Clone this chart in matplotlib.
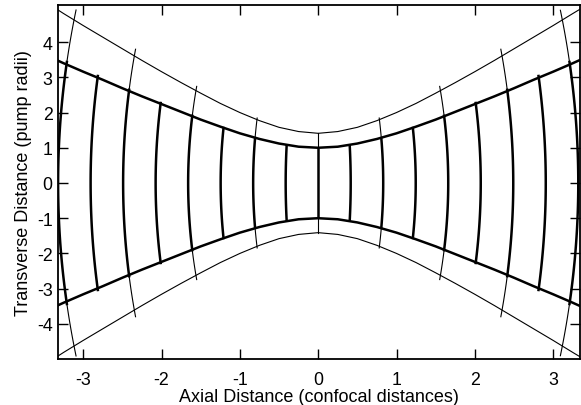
import numpy as np
import matplotlib
matplotlib.use('Agg')
import matplotlib.pyplot as plt

plt.rcParams['font.family'] = ['Liberation Sans', 'DejaVu Sans']

#beam envelope (axial position, inner radius, outer radius)
env_z = [-3.32, -3.25, -3.0, -2.75, -2.5, -2.25, -2.0, -1.75, -1.5, -1.25, -1.0,
         -0.75, -0.5, -0.25, 0.0, 0.25, 0.5, 0.75, 1.0, 1.25, 1.5, 1.75, 2.0,
         2.25, 2.5, 2.75, 3.0, 3.25, 3.34]
env_inner = [3.47, 3.40, 3.16, 2.93, 2.69, 2.46, 2.24, 2.02, 1.80, 1.60, 1.41,
             1.25, 1.12, 1.03, 1.00, 1.03, 1.12, 1.25, 1.41, 1.60, 1.80, 2.02, 2.24,
             2.46, 2.69, 2.93, 3.16, 3.40, 3.49]
env_outer = [4.91, 4.81, 4.47, 4.14, 3.81, 3.48, 3.16, 2.85, 2.55, 2.26, 2.00,
             1.77, 1.58, 1.46, 1.41, 1.46, 1.58, 1.77, 2.00, 2.26, 2.55, 2.85, 3.16,
             3.48, 3.81, 4.14, 4.47, 4.81, 4.93]

#wavefronts: position on axis, curvature (sag per radius^2), extended to outer edge?
wave_z = [-3.32, -2.905, -2.49, -2.075, -1.66, -1.245, -0.83, -0.415, 0.0,
          0.415, 0.83, 1.245, 1.66, 2.075, 2.49, 2.905, 3.32]
wave_c = [0.0095, 0.010, 0.011, 0.0125, 0.0145, 0.015, 0.015, 0.011, 0.0,
          0.011, 0.015, 0.015, 0.0145, 0.0125, 0.011, 0.010, 0.0095]
wave_long = [True, False, True, False, True, False, True, False, True,
             False, True, False, True, False, True, False, True]

x_ticks = [-3, -2, -1, 0, 1, 2, 3]
y_ticks = [-4, -3, -2, -1, 0, 1, 2, 3, 4]

fig = plt.figure(figsize=(5.81, 4.06), dpi=100)
ax = fig.add_axes([0.1, 0.113, 0.898, 0.872])

#envelopes
ax.plot(env_z, env_inner, color='black', lw=1.8)
ax.plot(env_z, [-v for v in env_inner], color='black', lw=1.8)
ax.plot(env_z, env_outer, color='black', lw=0.8)
ax.plot(env_z, [-v for v in env_outer], color='black', lw=0.8)

def radius_at(z, values):
    return np.interp(z, env_z, values)

#wavefronts, bent back toward the waist
for z0, c, long in zip(wave_z, wave_c, wave_long):
    s = np.sign(z0)
    w_in = radius_at(z0, env_inner)
    y = np.linspace(-w_in, w_in, 80)
    ax.plot(z0 - s*c*y**2, y, color='black', lw=1.8, solid_capstyle='butt')
    if long:
        w_out = radius_at(z0, env_outer)
        for sign in (1, -1):
            y = sign*np.linspace(w_in, w_out, 30)
            ax.plot(z0 - s*c*y**2, y, color='black', lw=0.8)

ax.set_xlim(-3.32, 3.34)
ax.set_ylim(-5.0, 5.05)
ax.set_xticks(x_ticks)
ax.set_yticks(y_ticks)
ax.set_xticklabels([str(t) for t in x_ticks])
ax.set_yticklabels([str(t) for t in y_ticks])
ax.tick_params(direction='in', length=7, width=1.0, labelsize=12.8,
               top=True, right=True)
ax.tick_params(axis='x', pad=8.5)
ax.tick_params(axis='y', pad=4)
for sp in ax.spines.values():
    sp.set_linewidth(1.3)

ax.set_xlabel('Axial Distance (confocal distances)', fontsize=13.0, labelpad=0)
ax.set_ylabel('Transverse Distance (pump radii)', fontsize=13.0, labelpad=3.5)

fig.savefig('out.png', dpi=100)
